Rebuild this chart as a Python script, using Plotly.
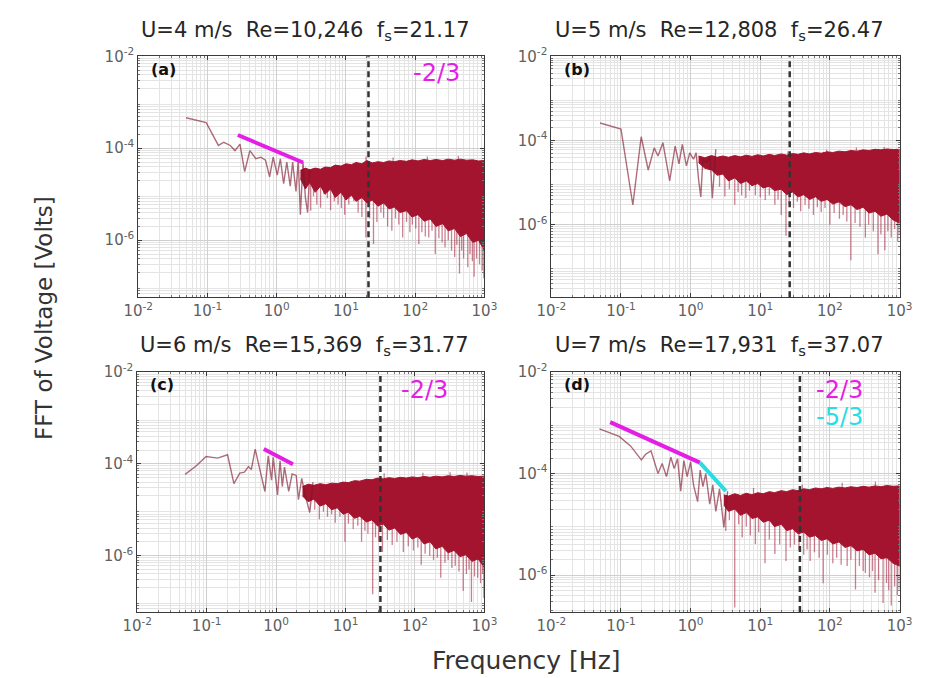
import plotly.graph_objects as go
from plotly.subplots import make_subplots

# ---------------- data ----------------
# Panel (a): U = 4 m/s -- low-frequency spectrum line
a_f = [0.049, 0.096, 0.144, 0.172, 0.214, 0.25, 0.295, 0.345, 0.41, 0.50, 0.59, 0.69,
       0.79, 0.89, 1.02, 1.13, 1.26, 1.40, 1.57, 1.70, 1.90, 2.05, 2.2, 2.4, 2.6, 2.8, 3.0]
a_v = [4.6e-4, 3.6e-4, 1.15e-4, 1.35e-4, 1.15e-4, 8.9e-5, 1.23e-4, 3.1e-5, 8.9e-5, 5.9e-5,
       6.4e-5, 5.5e-5, 2.4e-5, 6.4e-5, 2.6e-5, 5.9e-5, 1.7e-5, 5.0e-5, 1.5e-5, 5.0e-5,
       1.15e-5, 5.5e-5, 3.6e-6, 5.0e-5, 8.3e-6, 4.0e-6, 3.5e-5]
# dense band (upper / lower edge of the solid part)
a_band_f = [2.2, 2.6, 3.0, 3.6, 4.3, 5.0, 6.0, 7.0, 8.5, 10, 12, 14, 17, 20, 24, 29, 35,
            42, 50, 60, 75, 90, 110, 135, 165, 200, 250, 300, 370, 450, 550, 680, 820, 1000]
a_band_hi = [3.3e-5, 3.7e-5, 3.4e-5, 3.7e-5, 3.5e-5, 3.9e-5, 3.8e-5, 4.3e-5, 4.1e-5, 4.6e-5,
             4.4e-5, 4.9e-5, 4.6e-5, 5.4e-5, 4.8e-5, 5.1e-5, 4.9e-5, 5.3e-5, 5.1e-5, 5.4e-5,
             5.2e-5, 5.6e-5, 5.3e-5, 5.7e-5, 5.4e-5, 5.7e-5, 5.4e-5, 5.8e-5, 5.5e-5, 5.8e-5,
             5.5e-5, 5.6e-5, 5.3e-5, 5.4e-5]
a_band_lo = [2.2e-5, 1.3e-5, 1.8e-5, 1.1e-5, 1.5e-5, 1.0e-5, 1.3e-5, 8.5e-6, 1.1e-5, 7.5e-6,
             9.5e-6, 7.0e-6, 8.5e-6, 6.5e-6, 7.5e-6, 5.5e-6, 6.5e-6, 4.8e-6, 5.3e-6, 4.0e-6,
             4.4e-6, 3.2e-6, 3.6e-6, 2.6e-6, 2.9e-6, 2.0e-6, 2.3e-6, 1.6e-6, 1.8e-6, 1.2e-6,
             1.4e-6, 9.0e-7, 1.0e-6, 6.0e-7]
# spikes leaving the dense body (frequency, extreme value)
a_spk_f = [3.1, 3.4, 3.8, 4.3, 4.8, 5.4, 6.0, 6.8, 7.7, 8.6, 9.6, 11, 13, 15, 17, 19.4, 22,
           25, 28, 32, 35, 40, 46, 52, 58, 66, 75, 84, 91, 102, 113, 125, 140, 157, 175,
           195, 220, 245, 270, 300, 335, 372, 400, 436, 470, 500, 575, 620, 670, 710, 770,
           850, 930, 980, 19.5, 48, 150, 420]
a_spk_v = [4.4e-6, 9.0e-6, 6.0e-6, 5.1e-6, 1.0e-5, 8.3e-6, 4.5e-6, 7.0e-6, 6.0e-6, 5.0e-6,
           3.6e-6, 6.0e-6, 7.0e-6, 4.0e-6, 3.2e-6, 1.15e-6, 3.0e-6, 8.3e-7, 2.5e-6, 4.0e-6,
           3.1e-6, 2.0e-6, 1.6e-6, 3.0e-6, 2.2e-6, 1.15e-6, 2.5e-6, 1.5e-6, 2.2e-6, 1.8e-6,
           8.3e-7, 1.5e-6, 1.2e-6, 1.15e-6, 1.6e-6, 5.0e-7, 1.1e-6, 9.0e-7, 7.0e-7, 1.0e-6,
           6.0e-7, 4.3e-7, 8.0e-7, 1.9e-7, 6.0e-7, 4.0e-7, 2.6e-7, 5.0e-7, 3.5e-7, 1.6e-7,
           4.0e-7, 3.0e-7, 2.2e-7, 1.5e-7, 6.6e-5, 6.3e-5, 6.6e-5, 6.8e-5]

# Panel (b): U = 5 m/s
b_f = [0.050, 0.10, 0.148, 0.195, 0.246, 0.30, 0.34, 0.40, 0.50, 0.60, 0.68, 0.76, 0.87,
       0.97, 1.1, 1.2, 1.3, 1.4, 1.5, 1.7, 1.9, 2.05, 2.3]
b_v = [2.6e-4, 1.87e-4, 2.95e-6, 1.23e-4, 2.0e-5, 6.7e-5, 4.3e-5, 8.9e-5, 1.1e-5, 7.4e-5,
       2.8e-5, 8.1e-5, 2.5e-5, 5.1e-5, 3.6e-5, 5.1e-5, 1.2e-5, 4.6e-6, 3.6e-5, 3.0e-5,
       4.3e-5, 4.3e-6, 6.2e-5]
b_band_f = [1.3, 1.6, 2.0, 2.4, 2.9, 3.5, 4.3, 5.2, 6.3, 7.6, 9.2, 11, 13.5, 16, 20, 24, 29,
            35, 42, 51, 62, 75, 91, 110, 135, 165, 200, 245, 300, 365, 445, 540, 660, 810, 1000]
b_band_hi = [4.3e-5, 3.9e-5, 4.4e-5, 4.0e-5, 4.3e-5, 4.0e-5, 4.4e-5, 4.1e-5, 4.5e-5, 4.2e-5,
             4.6e-5, 4.3e-5, 4.7e-5, 4.4e-5, 4.8e-5, 4.5e-5, 4.9e-5, 4.7e-5, 5.1e-5, 4.8e-5,
             5.2e-5, 5.0e-5, 5.4e-5, 5.2e-5, 5.6e-5, 5.4e-5, 5.8e-5, 5.6e-5, 6.0e-5, 5.8e-5,
             6.2e-5, 6.0e-5, 6.3e-5, 6.1e-5, 6.2e-5]
b_band_lo = [3.0e-5, 2.2e-5, 2.0e-5, 1.5e-5, 1.6e-5, 1.1e-5, 1.3e-5, 9.5e-6, 1.1e-5, 8.5e-6,
             9.5e-6, 7.5e-6, 8.2e-6, 6.5e-6, 7.0e-6, 5.2e-6, 6.0e-6, 4.6e-6, 5.2e-6, 4.0e-6,
             4.6e-6, 3.6e-6, 4.0e-6, 3.1e-6, 3.5e-6, 2.7e-6, 3.0e-6, 2.3e-6, 2.6e-6, 1.9e-6,
             2.1e-6, 1.6e-6, 1.8e-6, 1.3e-6, 1.1e-6]
b_spk_f = [2.6, 3.1, 3.6, 4.3, 4.8, 5.4, 6.2, 7.0, 8.5, 10, 11.8, 13.5, 16.2, 18, 20, 23.4,
           26, 30, 34, 38, 44, 50, 58, 66, 75, 85, 100, 115, 137, 155, 175, 200, 230, 270,
           323, 360, 420, 490, 540, 615, 680, 760, 850, 940, 990, 25, 90, 240, 600]
b_spk_v = [8.0e-6, 4.7e-6, 7.0e-6, 3.0e-6, 6.0e-6, 5.0e-6, 4.3e-6, 6.5e-6, 5.0e-6, 4.5e-6,
           3.9e-6, 5.0e-6, 3.0e-6, 4.0e-6, 1.7e-6, 5.5e-7, 3.0e-6, 2.5e-6, 3.5e-6, 2.1e-6,
           3.0e-6, 2.4e-6, 1.7e-6, 2.6e-6, 2.0e-6, 2.5e-6, 1.0e-6, 1.9e-6, 1.4e-6, 1.7e-6,
           1.2e-6, 1.45e-7, 1.1e-6, 9.0e-7, 5.0e-7, 1.0e-6, 7.0e-7, 2.0e-7, 6.0e-7, 2.5e-7,
           7.0e-7, 5.0e-7, 8.0e-7, 4.0e-7, 6.0e-7, 5.6e-5, 6.0e-5, 6.8e-5, 7.0e-5]

# Panel (c): U = 6 m/s
c_f = [0.049, 0.071, 0.098, 0.144, 0.20, 0.247, 0.30, 0.35, 0.40, 0.44, 0.50, 0.60, 0.69,
       0.77, 0.86, 0.91, 1.05, 1.14, 1.23, 1.32, 1.52, 1.7, 1.95, 2.1, 2.34, 2.6, 3.05, 3.4]
c_v = [5.9e-5, 9.1e-5, 1.44e-4, 1.33e-4, 1.58e-4, 3.7e-5, 6.3e-5, 6.6e-5, 8.7e-5, 7.5e-5,
       2.1e-4, 6.2e-5, 2.5e-5, 1.5e-4, 4.4e-5, 1.38e-4, 2.1e-5, 1.17e-4, 3.2e-5, 8.5e-5,
       2.5e-5, 6.0e-5, 5.6e-5, 1.66e-5, 4.8e-5, 2.2e-5, 8.7e-6, 4.0e-5]
c_band_f = [2.4, 2.9, 3.5, 4.3, 5.2, 6.3, 7.6, 9.2, 11, 13.5, 16, 20, 24, 29, 35, 42, 51, 62,
            75, 91, 110, 135, 165, 200, 245, 300, 365, 445, 540, 660, 810, 1000]
c_band_hi = [3.2e-5, 3.6e-5, 3.4e-5, 3.7e-5, 3.5e-5, 3.8e-5, 3.7e-5, 4.0e-5, 3.9e-5, 4.3e-5,
             4.2e-5, 4.6e-5, 4.5e-5, 4.9e-5, 4.7e-5, 5.0e-5, 4.8e-5, 5.1e-5, 4.9e-5, 5.2e-5,
             5.0e-5, 5.3e-5, 5.1e-5, 5.4e-5, 5.2e-5, 5.5e-5, 5.3e-5, 5.6e-5, 5.4e-5, 5.5e-5,
             5.3e-5, 5.4e-5]
c_band_lo = [2.0e-5, 1.5e-5, 1.7e-5, 1.2e-5, 1.35e-5, 1.0e-5, 1.1e-5, 8.0e-6, 8.8e-6, 6.5e-6,
             7.2e-6, 5.4e-6, 6.0e-6, 4.4e-6, 4.9e-6, 3.6e-6, 4.0e-6, 2.9e-6, 3.2e-6, 2.3e-6,
             2.6e-6, 1.8e-6, 2.0e-6, 1.4e-6, 1.6e-6, 1.15e-6, 1.3e-6, 9.5e-7, 1.05e-6, 7.5e-7,
             8.5e-7, 5.5e-7]
c_spk_f = [3.6, 4.2, 4.8, 5.5, 6.3, 7.1, 8.3, 9.8, 11, 12.9, 15, 17, 19, 21, 24.6, 27, 30,
           34, 40, 47, 55, 68, 80, 95, 110, 123, 140, 163, 185, 210, 235, 270, 300, 340, 380,
           430, 495, 550, 600, 650, 720, 800, 880, 940, 980, 36, 130, 320, 560]
c_spk_v = [1.0e-5, 6.2e-6, 9.0e-6, 7.0e-6, 8.0e-6, 5.2e-6, 7.0e-6, 2.0e-6, 5.0e-6, 3.8e-6,
           4.5e-6, 2.0e-6, 3.5e-6, 3.0e-6, 1.45e-7, 2.5e-6, 2.0e-6, 1.2e-6, 2.2e-6, 1.7e-6,
           2.0e-6, 1.2e-6, 1.6e-6, 1.3e-6, 1.5e-6, 6.3e-7, 1.1e-6, 1.0e-6, 8.0e-7, 9.0e-7,
           3.3e-7, 7.0e-7, 8.0e-7, 5.4e-7, 6.0e-7, 4.5e-7, 1.7e-7, 4.0e-7, 5.0e-7, 9.8e-8,
           3.5e-7, 3.3e-7, 2.5e-7, 4.0e-7, 1.2e-7, 6.2e-5, 6.4e-5, 6.6e-5, 6.5e-5]

# Panel (d): U = 7 m/s
d_f = [0.049, 0.094, 0.137, 0.196, 0.226, 0.27, 0.34, 0.39, 0.45, 0.52, 0.58, 0.65, 0.72,
       0.80, 0.89, 1.0, 1.1, 1.26, 1.37, 1.5, 1.65, 1.88, 2.08, 2.3, 2.6, 3.0, 3.4]
d_v = [7.6e-4, 5.4e-4, 3.5e-4, 1.86e-4, 2.4e-4, 2.8e-4, 1.0e-4, 1.58e-4, 8.7e-5, 2.1e-4,
       1.26e-4, 1.95e-4, 4.5e-5, 1.8e-4, 8.7e-5, 1.7e-4, 6.0e-5, 2.8e-5, 1.17e-4, 5.5e-5,
       1.0e-4, 2.5e-5, 6.0e-5, 1.8e-5, 5.0e-5, 8.7e-6, 4.5e-5]
d_band_f = [3.0, 3.5, 4.3, 5.2, 6.3, 7.6, 9.2, 11, 13.5, 16, 20, 24, 29, 35, 42, 51, 62, 75,
            91, 110, 135, 165, 200, 245, 300, 365, 445, 540, 660, 810, 1000]
d_band_hi = [3.8e-5, 3.6e-5, 4.0e-5, 3.7e-5, 4.1e-5, 3.8e-5, 4.2e-5, 4.0e-5, 4.4e-5, 4.2e-5,
             4.6e-5, 4.4e-5, 4.8e-5, 4.6e-5, 5.0e-5, 4.8e-5, 5.2e-5, 5.0e-5, 5.3e-5, 5.1e-5,
             5.4e-5, 5.2e-5, 5.5e-5, 5.3e-5, 5.6e-5, 5.4e-5, 5.7e-5, 5.5e-5, 5.8e-5, 5.6e-5,
             5.7e-5]
d_band_lo = [2.4e-5, 1.8e-5, 2.0e-5, 1.5e-5, 1.7e-5, 1.3e-5, 1.4e-5, 1.1e-5, 1.2e-5, 9.0e-6,
             1.0e-5, 7.5e-6, 8.2e-6, 6.5e-6, 7.0e-6, 5.6e-6, 6.0e-6, 4.8e-6, 5.2e-6, 4.1e-6,
             4.5e-6, 3.5e-6, 3.8e-6, 3.0e-6, 3.2e-6, 2.5e-6, 2.7e-6, 2.1e-6, 2.2e-6, 1.7e-6,
             1.5e-6]
d_spk_f = [3.2, 3.6, 4.3, 4.9, 5.5, 6.3, 7.2, 8.5, 9.5, 11.7, 13.5, 16.2, 19, 23.4, 27, 31,
           36, 42, 47, 52, 60, 70, 80, 92, 110, 125, 145, 177, 200, 233, 265, 300, 323, 370,
           410, 445, 500, 580, 650, 700, 760, 850, 930, 990, 8.0, 40, 150, 450]
d_spk_v = [7.4e-6, 1.2e-5, 2.3e-7, 1.0e-5, 5.5e-6, 9.0e-6, 6.0e-6, 4.1e-6, 7.0e-6, 1.7e-6,
           5.0e-6, 2.6e-6, 4.0e-6, 1.9e-6, 3.5e-6, 4.0e-6, 3.1e-6, 2.5e-6, 3.2e-6, 1.9e-6,
           2.8e-6, 2.2e-6, 6.9e-7, 2.5e-6, 1.7e-6, 2.2e-6, 1.6e-6, 1.5e-6, 2.0e-6, 5.2e-7,
           1.5e-6, 1.2e-6, 1.1e-6, 9.0e-7, 1.2e-6, 4.5e-7, 8.0e-7, 2.8e-7, 7.0e-7, 5.0e-7,
           2.5e-7, 6.0e-7, 4.0e-7, 5.2e-7, 5.2e-5, 6.0e-5, 6.6e-5, 6.9e-5]

# Power-law guide segments (end points)
a_m23_f, a_m23_v = [0.275, 2.4], [1.94e-4, 4.9e-5]
c_m23_f, c_m23_v = [0.665, 1.75], [2.1e-4, 9.8e-5]
d_m23_f, d_m23_v = [0.070, 1.36], [1.03e-3, 1.64e-4]
d_m53_f, d_m53_v = [1.36, 3.21], [1.64e-4, 4.5e-5]

# Shedding frequencies and panel titles
fs = [21.17, 26.47, 31.77, 37.07]
speeds = ["4", "5", "6", "7"]
reynolds = ["10,246", "12,808", "15,369", "17,931"]
letters = ["(a)", "(b)", "(c)", "(d)"]
y_ranges = [[-7.24, -2], [-7.72, -2], [-7.23, -2], [-6.73, -2]]

x_ticks = [1e-2, 1e-1, 1e0, 1e1, 1e2, 1e3]
x_ticktext = ["10<sup>-2</sup>", "10<sup>-1</sup>", "10<sup>0</sup>",
              "10<sup>1</sup>", "10<sup>2</sup>", "10<sup>3</sup>"]
y_ticks = [1e-6, 1e-4, 1e-2]
y_ticktext = ["10<sup>-6</sup>", "10<sup>-4</sup>", "10<sup>-2</sup>"]

# ---------------- styling ----------------
W, H = 930, 678
BODY = "rgb(164,20,46)"
LINE = "rgba(125,20,42,0.62)"
SPIKE = "rgba(160,24,52,0.55)"
MAGENTA = "rgb(228,30,228)"
CYAN = "rgb(40,222,226)"
FONT = "DejaVu Sans"

fig = make_subplots(rows=2, cols=2)

panels = [
    (a_f, a_v, a_band_f, a_band_hi, a_band_lo, a_spk_f, a_spk_v, 2.0e-5, 1, 1),
    (b_f, b_v, b_band_f, b_band_hi, b_band_lo, b_spk_f, b_spk_v, 2.0e-5, 1, 2),
    (c_f, c_v, c_band_f, c_band_hi, c_band_lo, c_spk_f, c_spk_v, 2.2e-5, 2, 1),
    (d_f, d_v, d_band_f, d_band_hi, d_band_lo, d_spk_f, d_spk_v, 2.5e-5, 2, 2),
]

for f, v, bf, bhi, blo, sf, sv, anchor, r, c in panels:
    # spikes reaching out of the dense body
    xs, ys = [], []
    for fx, vy in zip(sf, sv):
        xs += [fx, fx, None]
        ys += [anchor, vy, None]
    fig.add_trace(go.Scatter(x=xs, y=ys, mode="lines", line=dict(color=SPIKE, width=1.3),
                             hoverinfo="skip", showlegend=False), row=r, col=c)
    # solid body of the dense high-frequency spectrum
    fig.add_trace(go.Scatter(x=bf + bf[::-1], y=bhi + blo[::-1], mode="lines",
                             fill="toself", fillcolor=BODY, line=dict(color=BODY, width=1),
                             hoverinfo="skip", showlegend=False), row=r, col=c)
    # low-frequency spectrum line
    fig.add_trace(go.Scatter(x=f, y=v, mode="lines", line=dict(color=LINE, width=1.4),
                             showlegend=False), row=r, col=c)

for f, v, col, r, c in [(a_m23_f, a_m23_v, MAGENTA, 1, 1), (c_m23_f, c_m23_v, MAGENTA, 2, 1),
                        (d_m23_f, d_m23_v, MAGENTA, 2, 2), (d_m53_f, d_m53_v, CYAN, 2, 2)]:
    fig.add_trace(go.Scatter(x=f, y=v, mode="lines", line=dict(color=col, width=4),
                             showlegend=False), row=r, col=c)

# panel placement in pixels (left, right, top, bottom)
boxes = [(127, 484, 46, 291), (553, 912, 46, 291), (126, 484, 367, 611), (553, 912, 367, 611)]

minor_x = [m * 10.0 ** e for e in range(-2, 3) for m in range(2, 10)]
minor_y = [m * 10.0 ** e for e in range(-8, -2) for m in range(2, 10)]

for i, (l, rt, t, b) in enumerate(boxes):
    xa = "xaxis" if i == 0 else f"xaxis{i + 1}"
    ya = "yaxis" if i == 0 else f"yaxis{i + 1}"
    common = dict(type="log", showline=True, mirror="allticks", linecolor="#3a3a3a", linewidth=1,
                  ticks="inside", ticklen=4, tickcolor="#3a3a3a", showgrid=True,
                  gridcolor="#cfcfcf", gridwidth=1, zeroline=False,
                  tickfont=dict(family=FONT, size=15, color="#606060"))
    fig.update_layout({
        xa: dict(common, domain=[l / W, rt / W], range=[-2, 3], tickmode="array",
                 tickvals=x_ticks, ticktext=x_ticktext,
                 minor=dict(tickmode="array", tickvals=minor_x, showgrid=True,
                            gridcolor="#e4e4e4", ticks="inside", ticklen=2, tickcolor="#777")),
        ya: dict(common, domain=[1 - b / H, 1 - t / H], range=y_ranges[i], tickmode="array",
                 tickvals=y_ticks, ticktext=y_ticktext,
                 minor=dict(tickmode="array", tickvals=minor_y, showgrid=True,
                            gridcolor="#e4e4e4", ticks="inside", ticklen=2, tickcolor="#777")),
    })
    # shedding frequency marker
    fig.add_shape(type="line", xref="x" if i == 0 else f"x{i + 1}",
                  yref="y domain" if i == 0 else f"y{i + 1} domain",
                  x0=fs[i], x1=fs[i], y0=0, y1=1,
                  line=dict(color="#333333", width=2.5, dash="6px,4px"))
    # title above the panel
    cx = (l + rt) / 2 - 6
    sp = "\u00a0"
    fig.add_annotation(xref="paper", yref="paper", x=cx / W, y=1 - (t - 26) / H,
                       text=f"U={speeds[i]} m/s{sp}{sp}Re={reynolds[i]}{sp}{sp}f<sub>s</sub>={fs[i]:.2f}",
                       showarrow=False, xanchor="center", yanchor="middle",
                       font=dict(family=FONT, size=21, color="#262626"))
    # panel letter
    fig.add_annotation(xref="paper", yref="paper", x=(l + 11) / W, y=1 - (t + 13) / H,
                       text=f"<b>{letters[i]}</b>", showarrow=False, xanchor="left",
                       yanchor="middle", font=dict(family=FONT, size=16, color="#111111"))

# slope labels
for x, y, txt, col in [(435, 63, "-2/3", MAGENTA), (422, 385, "-2/3", MAGENTA),
                       (850, 385, "-2/3", MAGENTA), (850, 413, "-5/3", CYAN)]:
    fig.add_annotation(xref="paper", yref="paper", x=x / W, y=1 - y / H, text=txt,
                       showarrow=False, xanchor="center", yanchor="middle",
                       font=dict(family=FONT, size=24, color=col))

# shared axis labels
fig.add_annotation(xref="paper", yref="paper", x=30 / W, y=1 - 312 / H,
                   text="FFT of Voltage [Volts]", textangle=-90, showarrow=False,
                   xanchor="center", yanchor="middle",
                   font=dict(family=FONT, size=23, color="#333333"))
fig.add_annotation(xref="paper", yref="paper", x=527 / W, y=1 - 660 / H,
                   text="Frequency [Hz]", showarrow=False, xanchor="center", yanchor="middle",
                   font=dict(family=FONT, size=25, color="#333333"))

fig.update_layout(width=W, height=H, autosize=False, margin=dict(l=0, r=0, t=0, b=0),
                  paper_bgcolor="white", plot_bgcolor="white", showlegend=False)

fig.write_html("out.html")
